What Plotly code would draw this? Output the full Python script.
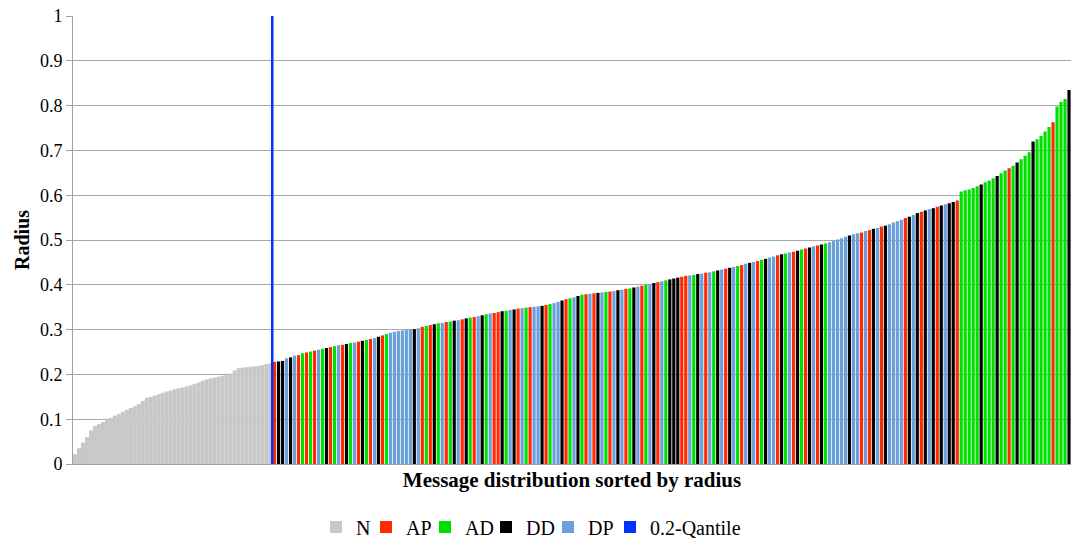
import plotly.graph_objects as go

# Radius of normal messages (N), sorted ascending
n_radius = [
    0.022, 0.035, 0.048, 0.060, 0.075, 0.085, 0.089, 0.094, 0.099, 0.103,
    0.108, 0.112, 0.117, 0.121, 0.125, 0.129, 0.134, 0.141, 0.148, 0.150,
    0.153, 0.156, 0.159, 0.162, 0.164, 0.167, 0.169, 0.171, 0.173, 0.176,
    0.179, 0.182, 0.186, 0.189, 0.191, 0.193, 0.195, 0.197, 0.199, 0.202,
    0.209, 0.214, 0.215, 0.216, 0.217, 0.218, 0.219, 0.221, 0.223, 0.225,
]

# Radius of the other messages, sorted ascending
attack_radius = [
    0.228, 0.229, 0.230, 0.236, 0.238, 0.242, 0.243,
    0.247, 0.249, 0.251, 0.253, 0.255, 0.257, 0.259, 0.261, 0.263,
    0.265, 0.266, 0.268, 0.270, 0.271, 0.273, 0.275, 0.277,
    0.279, 0.281, 0.284, 0.287, 0.290, 0.293, 0.295, 0.297,
    0.298, 0.299, 0.300, 0.301, 0.303, 0.306, 0.308, 0.310, 0.312,
    0.314, 0.315, 0.317, 0.318, 0.320, 0.321, 0.323, 0.325,
    0.327, 0.328, 0.330, 0.332, 0.334, 0.336, 0.337, 0.339,
    0.341, 0.342, 0.344, 0.345, 0.347, 0.348,
    0.349, 0.350, 0.351, 0.352, 0.353, 0.355, 0.357,
    0.359, 0.362, 0.365, 0.368, 0.370, 0.372, 0.375, 0.378,
    0.379, 0.380, 0.381, 0.382, 0.383, 0.384, 0.385, 0.386, 0.388,
    0.389, 0.391, 0.392, 0.394, 0.396, 0.398, 0.400, 0.402,
    0.404, 0.406, 0.408, 0.410, 0.412, 0.414, 0.416, 0.418,
    0.420, 0.421, 0.422, 0.424, 0.425, 0.427, 0.428, 0.430, 0.432,
    0.434, 0.436, 0.438, 0.440, 0.442, 0.444, 0.447, 0.449,
    0.451, 0.453, 0.456, 0.458, 0.461, 0.463, 0.466, 0.468,
    0.470, 0.472, 0.474, 0.476, 0.479, 0.481, 0.483, 0.486, 0.488,
    0.490, 0.492, 0.495, 0.498, 0.501, 0.504, 0.507, 0.510, 0.513,
    0.515, 0.517, 0.520, 0.522, 0.525, 0.527, 0.530, 0.532,
    0.535, 0.539, 0.542, 0.545, 0.549, 0.552, 0.556, 0.560,
    0.563, 0.566, 0.569, 0.571, 0.574, 0.577, 0.580, 0.582, 0.585,
    0.588, 0.608, 0.611, 0.613, 0.616, 0.620, 0.624, 0.629,
    0.633, 0.638, 0.643, 0.649, 0.655, 0.660, 0.666, 0.673,
    0.680, 0.688, 0.696, 0.720,
    0.725, 0.732, 0.742, 0.752, 0.763,
    0.798, 0.808, 0.815, 0.835,
]

# Class of each of those messages: R=AP, G=AD, K=DD, B=DP
attack_class = (
    "RKKBKBRGRG" "RBGKRGBRKG" "BRKGRBKRGB" "BBBBBKBRGR" "KGBRGKBRKG"
    "RBKGBRRKGB" "KRBGRBBKRG" "BBKRGBKGRB" "RKBGRBKBRG" "KBRGBKRBGK"
    "KKRRBGKBRB" "GKBRKBGRBK" "BRGKBBRKGB" "RKGRKBRKGB" "BBBBKBBRBR"
    "KBRKBBBBRK" "BKRKBKRKBK" "KRGGGGGKGG" "GKGGRGKGGG" "KGGGGRGGGK"
)

class_names = {"R": "AP", "G": "AD", "K": "DD", "B": "DP"}
colors = {"N": "#C8C8C8", "AP": "#FF2A00", "AD": "#00E000",
          "DD": "#000000", "DP": "#6A9FDC", "Q": "#0033FF"}
legend_widths = {"N": 5, "AP": 14, "AD": 16, "DD": 17, "DP": 17, "Q": 90}
quantile = 0.2
quantile_label = "0.2-Qantile"

font = "Liberation Serif"

fig = go.Figure()
fig.add_bar(x=list(range(len(n_radius))), y=n_radius, name="N",
            marker_color=colors["N"], marker_line_width=0, width=1.0,
            legendwidth=legend_widths["N"])

offset = len(n_radius)
for code, name in class_names.items():
    xs = [offset + i for i, c in enumerate(attack_class) if c == code]
    ys = [attack_radius[i] for i, c in enumerate(attack_class) if c == code]
    fig.add_bar(x=xs, y=ys, name=name, marker_color=colors[name],
                marker_line_width=0, width=0.8, legendwidth=legend_widths[name])

total = len(n_radius) + len(attack_radius)
qx = quantile * total - 0.5
fig.add_bar(x=[qx], y=[1.0], name=quantile_label, marker_color=colors["Q"],
            marker_line_width=0, width=0.45, legendwidth=legend_widths["Q"])

fig.update_layout(
    width=1071, height=540,
    margin=dict(l=73, r=0, t=16, b=76, autoexpand=False),
    barmode="overlay",
    plot_bgcolor="white", paper_bgcolor="white",
    font=dict(family=font, size=18, color="black"),
    showlegend=True,
    legend=dict(orientation="h", x=(316 - 73) / 998, xanchor="left",
                y=(464 - 527) / 448, yanchor="middle",
                font=dict(family=font, size=20), traceorder="normal",
                itemwidth=30, bgcolor="rgba(0,0,0,0)"),
    hovermode=False,
)
fig.update_xaxes(range=[-0.5, total - 0.5], showticklabels=False, showgrid=False,
                 showline=True, linecolor="#A0A0A0", linewidth=1, zeroline=False,
                 automargin=False,
                 title=dict(text="<b>Message distribution sorted by radius</b>",
                            font=dict(family=font, size=21), standoff=8))
fig.update_yaxes(range=[0, 1], dtick=0.1, tickformat="~g", showgrid=True,
                 gridcolor="#A8A8A8", gridwidth=1, showline=True,
                 linecolor="#A0A0A0", linewidth=1, zeroline=False,
                 ticks="outside", ticklen=6, tickcolor="#A0A0A0",
                 automargin=False,
                 tickfont=dict(family=font, size=18),
                 title=dict(text="<b>Radius</b>", font=dict(family=font, size=20),
                            standoff=4))

fig.write_html("out.html",
               config={"displayModeBar": False},
               post_script="document.body.style.margin='0';"
                           "document.body.style.overflow='hidden';")
